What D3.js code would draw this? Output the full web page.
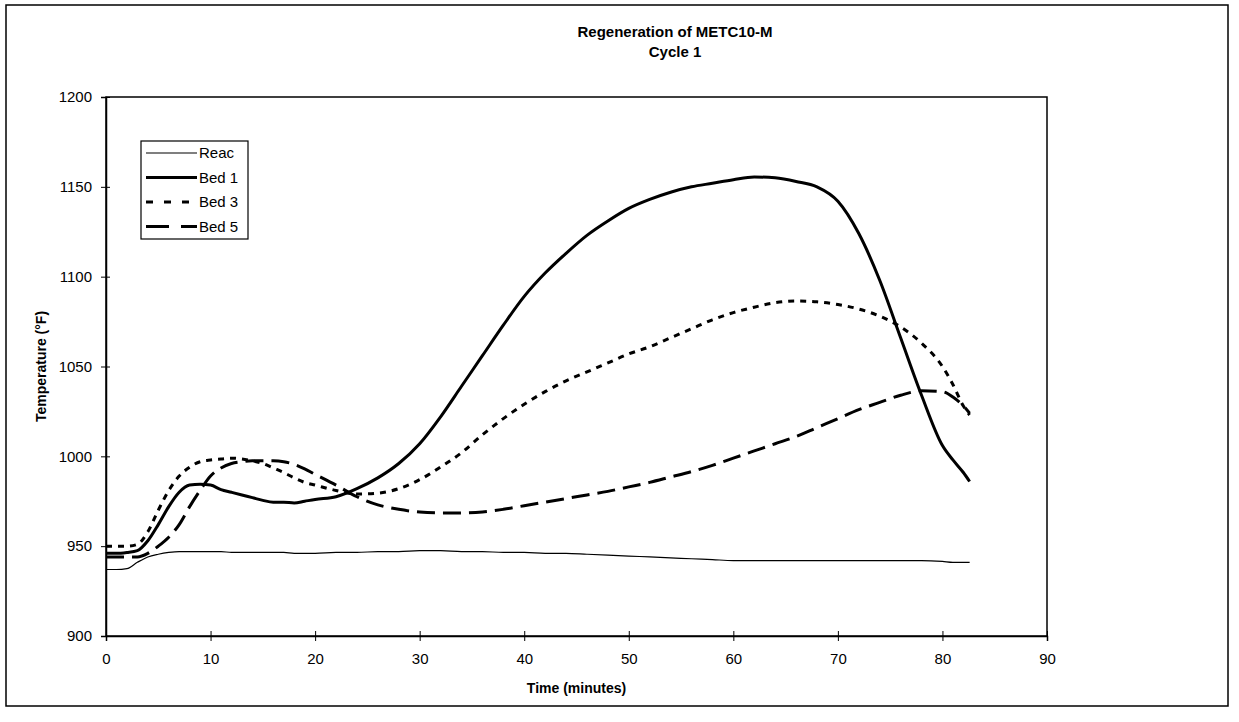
<!DOCTYPE html>
<html>
<head>
<meta charset="utf-8">
<script src="https://cdn.jsdelivr.net/npm/d3@7"></script>
<style>
  body { margin: 0; background: #fff; }
  text { font-family: "Liberation Sans", Arial, Helvetica, sans-serif; fill: #000; }
</style>
</head>
<body>
<div id="chart"></div>
<script>
// time in minutes, shared by all series
const time = [0, 1, 2, 3, 4, 5, 6, 7, 8, 9, 10, 11, 12, 13, 14, 15, 16, 17, 18, 19, 20,
  22, 24, 26, 28, 30, 32, 34, 36, 38, 40, 42, 44, 46, 48, 50, 52, 54, 56, 58, 60,
  62, 64, 66, 68, 70, 72, 74, 76, 78, 80, 81, 82, 82.6];

const reac = [937, 937, 937.5, 941, 944, 945.5, 946.5, 947, 947, 947, 947, 947, 946.5, 946.5, 946.5, 946.5, 946.5, 946.5, 946, 946, 946,
  946.5, 946.5, 947, 947, 947.5, 947.5, 947, 947, 946.5, 946.5, 946, 946, 945.5, 945, 944.5, 944, 943.5, 943, 942.5, 942,
  942, 942, 942, 942, 942, 942, 942, 942, 942, 941.5, 941, 941, 941];

const bed1 = [946, 946, 946.5, 947.5, 953, 962, 972, 980, 984, 984.5, 984, 981.5, 980, 978.5, 977, 975.5, 974.5, 974.5, 974, 975, 976,
  977.5, 982, 988, 996, 1007, 1022, 1039, 1056, 1073, 1089, 1102, 1113, 1123, 1131, 1138, 1143, 1147, 1150, 1152, 1154,
  1155.5, 1155, 1153, 1150, 1142, 1124, 1098, 1066, 1034, 1006, 998, 991, 986];

const bed3 = [950, 950, 950, 951, 958, 970, 981, 989, 994, 997, 998, 998.5, 999, 998.5, 997.5, 996, 993.5, 991, 988, 985.5, 984,
  981, 979, 979.5, 982, 987, 994, 1002, 1012, 1021, 1029, 1036, 1042, 1047, 1052, 1057, 1061, 1066, 1071, 1076, 1080,
  1083, 1085.5, 1086.5, 1086, 1084.5, 1082, 1078, 1072, 1063, 1050, 1040, 1028, 1023];

const bed5 = [944, 944, 944, 944, 946, 950, 955, 962, 972, 981, 989, 993.5, 996, 997, 997.5, 997.5, 997.5, 997, 995.5, 993, 990,
  984, 977.5, 973, 970.5, 969, 968.5, 968.5, 969, 970.5, 972.5, 974.5, 976.5, 978.5, 980.5, 983, 985.5, 988.5, 991.5, 995, 999,
  1003, 1007, 1011, 1016, 1021, 1026, 1030, 1034, 1036.5, 1036, 1033, 1028, 1024];

const seriesNames = ["Reac", "Bed 1", "Bed 3", "Bed 5"];
const seriesValues = [reac, bed1, bed3, bed5];
const xTicks = [0, 10, 20, 30, 40, 50, 60, 70, 80, 90];
const yTicks = [900, 950, 1000, 1050, 1100, 1150, 1200];

const styles = [
  { width: 1.2, dash: null },
  { width: 3, dash: null },
  { width: 3, dash: "6,6" },
  { width: 3, dash: "18,8" }
];

const width = 1239, height = 722;
const plot = { left: 106, top: 97, right: 1047, bottom: 636 };
const titleX = 675;

const svg = d3.select("#chart")
  .append("svg")
  .attr("width", width)
  .attr("height", height);

// outer frame
svg.append("rect")
  .attr("x", 6).attr("y", 5)
  .attr("width", 1222).attr("height", 701)
  .style("fill", "none")
  .style("stroke", "#000")
  .style("stroke-width", 1.5);

const x = d3.scaleLinear().domain([0, 90]).range([plot.left, plot.right]);
const y = d3.scaleLinear().domain([900, 1200]).range([plot.bottom, plot.top]);

// plot border
svg.append("rect")
  .attr("x", plot.left).attr("y", plot.top)
  .attr("width", plot.right - plot.left).attr("height", plot.bottom - plot.top)
  .style("fill", "none")
  .style("stroke", "#000")
  .style("stroke-width", 1.5);

const xAxis = svg.append("g")
  .attr("transform", `translate(0,${plot.bottom})`)
  .call(d3.axisBottom(x).tickValues(xTicks).tickSize(5).tickPadding(12).tickFormat(d3.format("d")));
xAxis.select(".domain").style("stroke-width", 1.5);
xAxis.selectAll(".tick line").attr("y1", -5).attr("y2", 5);
xAxis.selectAll("text").style("font-size", "15px");

const yAxis = svg.append("g")
  .attr("transform", `translate(${plot.left},0)`)
  .call(d3.axisLeft(y).tickValues(yTicks).tickSize(5).tickPadding(9).tickFormat(d3.format("d")));
yAxis.select(".domain").style("stroke-width", 1.5);
yAxis.selectAll(".tick line").attr("x1", 4).attr("x2", -5);
yAxis.selectAll("text").style("font-size", "15px");

// titles
svg.append("text")
  .attr("x", titleX)
  .attr("y", 37)
  .attr("text-anchor", "middle")
  .style("font-size", "15px")
  .style("font-weight", "bold")
  .text("Regeneration of METC10-M");

svg.append("text")
  .attr("x", titleX)
  .attr("y", 57)
  .attr("text-anchor", "middle")
  .style("font-size", "15px")
  .style("font-weight", "bold")
  .text("Cycle 1");

svg.append("text")
  .attr("x", (plot.left + plot.right) / 2)
  .attr("y", 693)
  .attr("text-anchor", "middle")
  .style("font-size", "14px")
  .style("font-weight", "bold")
  .text("Time (minutes)");

svg.append("text")
  .attr("transform", `translate(46,${(plot.top + plot.bottom) / 2}) rotate(-90)`)
  .attr("text-anchor", "middle")
  .style("font-size", "14px")
  .style("font-weight", "bold")
  .text("Temperature (°F)");

// lines
const line = d3.line()
  .x(d => x(d[0]))
  .y(d => y(d[1]))
  .curve(d3.curveMonotoneX);

seriesValues.forEach((vals, i) => {
  svg.append("path")
    .datum(time.map((t, j) => [t, vals[j]]))
    .attr("d", line)
    .style("fill", "none")
    .style("stroke", "#000")
    .style("stroke-width", styles[i].width)
    .style("stroke-dasharray", styles[i].dash);
});

// legend
const legend = svg.append("g").attr("transform", "translate(141,141)");
legend.append("rect")
  .attr("width", 107).attr("height", 98)
  .style("fill", "#fff")
  .style("stroke", "#000")
  .style("stroke-width", 1.2);

seriesNames.forEach((name, i) => {
  const ly = 12 + i * 24.5;
  legend.append("line")
    .attr("x1", 5).attr("x2", 56)
    .attr("y1", ly).attr("y2", ly)
    .style("stroke", "#000")
    .style("stroke-width", styles[i].width)
    .style("stroke-dasharray", i === 2 ? "7,11" : (i === 3 ? "23,12" : null));
  legend.append("text")
    .attr("x", 58)
    .attr("y", ly + 5)
    .style("font-size", "15px")
    .text(name);
});
</script>
</body>
</html>
